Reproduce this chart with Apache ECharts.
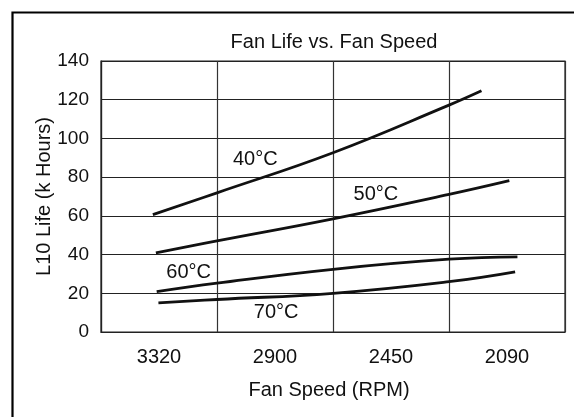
<!DOCTYPE html>
<html>
<head>
<meta charset="utf-8">
<script src="https://cdn.jsdelivr.net/npm/echarts@6/dist/echarts.min.js"></script>
<style>
html,body{margin:0;padding:0;background:#fff;}
#c{width:574px;height:417px;}
</style>
</head>
<body>
<div id="c"></div>
<script>
// Category tick labels (fan speed, RPM)
const speeds = ['3320', '2900', '2450', '2090'];
// Y ticks
const yMin = 0, yMax = 140, yStep = 20;
// Curves: [position along category axis (0..4 units), L10 life in k hours]
const life40 = [[0.447,60.6],[1.0,71.9],[2.0,92.6],[3.0,117.2],[3.28,124.6]];
const life50 = [[0.473,40.9],[1.0,47.1],[2.0,58.5],[3.0,71.1],[3.52,78.2]];
const life60 = [[0.48,20.8],[1.0,25.2],[2.0,32.4],[3.0,37.6],[3.59,38.8]];
const life70 = [[0.495,15],[1.0,16.8],[2.0,20],[3.0,26],[3.57,31.1]];
// Curve labels
const labelNames = ['40°C', '50°C', '60°C', '70°C'];
const labelPos = [[1.33,88.9],[2.37,71.1],[0.756,30.6],[1.51,9.9]];

const FONT = '"Liberation Sans", Arial, sans-serif';
const TXT = '#111';
const chart = echarts.init(document.getElementById('c'), null, {renderer:'canvas'});

function curve(name, data){
  return {
    name: name, type: 'line', xAxisIndex: 1, data: data,
    smooth: 0.45, symbol: 'none', silent: true,
    lineStyle: {color: '#111', width: 2.8}
  };
}

chart.setOption({
  animation: false,
  backgroundColor: '#fff',
  title: {
    text: 'Fan Life vs. Fan Speed',
    left: 329, top: 27, textAlign: 'center',
    textStyle: {fontFamily: FONT, fontSize: 20, fontWeight: 'normal', color: TXT}
  },
  graphic: [{
    type: 'rect', left: 10, top: 10, silent: true,
    shape: {width: 620, height: 460},
    style: {fill: 'none', stroke: '#000', lineWidth: 2.2}
  }],
  grid: {left: 101, right: 9, top: 61, bottom: 85, show: true, borderColor: '#222', borderWidth: 1.2, backgroundColor: 'transparent'},
  xAxis: [{
    type: 'category', data: speeds, boundaryGap: true,
    name: 'Fan Speed (RPM)', nameLocation: 'middle', nameGap: 48, nameMoveOverlap: false,
    nameTextStyle: {fontFamily: FONT, fontSize: 20, color: TXT, padding: [0, 8, 0, 0]},
    axisLine: {show: true, lineStyle: {color: '#222', width: 1.2}},
    axisTick: {show: false},
    axisLabel: {fontFamily: FONT, fontSize: 20, color: TXT, margin: 15},
    splitLine: {show: true, lineStyle: {color: '#333', width: 1.2}}
  }, {
    type: 'value', min: 0, max: 4, show: false
  }],
  yAxis: {
    type: 'value', min: yMin, max: yMax, interval: yStep,
    name: 'L10 Life (k Hours)', nameLocation: 'middle', nameGap: 47, nameRotate: 90, nameMoveOverlap: false,
    nameTextStyle: {fontFamily: FONT, fontSize: 20, color: TXT},
    axisLine: {show: true, lineStyle: {color: '#222', width: 1.2}},
    axisTick: {show: false},
    axisLabel: {fontFamily: FONT, fontSize: 19, color: TXT, margin: 12},
    splitLine: {show: true, lineStyle: {color: '#222', width: 1.2}}
  },
  series: [
    curve('40°C', life40),
    curve('50°C', life50),
    curve('60°C', life60),
    curve('70°C', life70),
    {
      type: 'scatter', xAxisIndex: 1, symbolSize: 0, silent: true,
      itemStyle: {opacity: 1},
      data: labelNames.map((n, i) => ({name: n, value: labelPos[i]})),
      label: {show: true, position: 'inside', formatter: p => p.name, opacity: 1,
        fontFamily: FONT, fontSize: 20, color: TXT}
    }
  ]
});
</script>
</body>
</html>
